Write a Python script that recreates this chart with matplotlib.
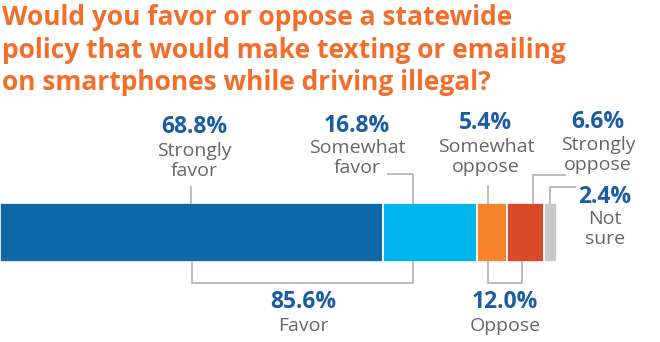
import matplotlib.pyplot as plt

# survey shares, left to right
cats = ['Strongly\nfavor', 'Somewhat\nfavor', 'Somewhat\noppose', 'Strongly\noppose', 'Not\nsure']
vals = [68.8, 16.8, 5.4, 6.6, 2.4]
colors = ['#1068A8', '#00B5EE', '#F5842A', '#D84A28', '#C8C8C8']
groups = ['Favor', 'Oppose']
group_vals = [85.6, 12.0]

title = ['Would you favor or oppose a statewide',
         'policy that would make texting or emailing',
         'on smartphones while driving illegal?']
orange = '#F36D2B'
blue_txt = '#1A5DA6'
grey_txt = '#666666'
line_c = '#B0B0B0'

plt.rcParams['font.family'] = ['Open Sans', 'DejaVu Sans']

fig = plt.figure(figsize=(6.6, 3.42), dpi=100)
ax = fig.add_axes([0, 0, 1, 1])
PX = 5.57  # pixels per percent
ax.set_xlim(0, 660 / PX)
ax.set_ylim(342, 0)
ax.axis('off')

# stacked bar
left = 0
for v, c in zip(vals, colors):
    ax.barh(232.5, v, left=left, height=59, color=c, edgecolor='white', linewidth=1.2)
    left += v

for i, ln in enumerate(title):
    fig.text(0.003, 1 - (25 + 32.5 * i) / 342, ln, color=orange, fontsize=19,
             fontweight='bold', va='baseline', ha='left')

def p(x):
    return x / PX

# top labels: (center x px, value y px, label y px)
top = [(194, 127, 161), (357, 126, 158), (486, 123, 157), (598, 122, 155), (605, 197, 229)]
for (cx, vy, ly), v, name in zip(top, vals, cats):
    ax.text(p(cx), vy, f'{v:.1f}%', color=blue_txt, fontsize=16.5, fontweight='bold',
            ha='center', va='center')
    ax.text(p(cx), ly, name, color=grey_txt, fontsize=14, ha='center', va='center',
            linespacing=1.15)

lk = dict(color=line_c, lw=1.2)
ax.plot([p(191), p(191)], [187, 203], **lk)
ax.plot([p(388), p(413), p(413)], [174, 174, 203], **lk)
ax.plot([p(488), p(488)], [186, 203], **lk)
ax.plot([p(565), p(533), p(533)], [175, 175, 203], **lk)
ax.plot([p(575), p(550), p(550)], [187, 187, 203], **lk)

# bottom brackets
ax.plot([p(192), p(192), p(413), p(413)], [262, 283, 283, 262], **lk)
ax.plot([p(488), p(488), p(522), p(522)], [262, 283, 283, 262], **lk)
for cx, v, name in zip([303, 505], group_vals, groups):
    ax.text(p(cx), 302, f'{v:.1f}%', color=blue_txt, fontsize=16.5, fontweight='bold',
            ha='center', va='center')
    ax.text(p(cx), 326, name, color=grey_txt, fontsize=14, ha='center', va='center')

fig.savefig('out.png', dpi=100)
